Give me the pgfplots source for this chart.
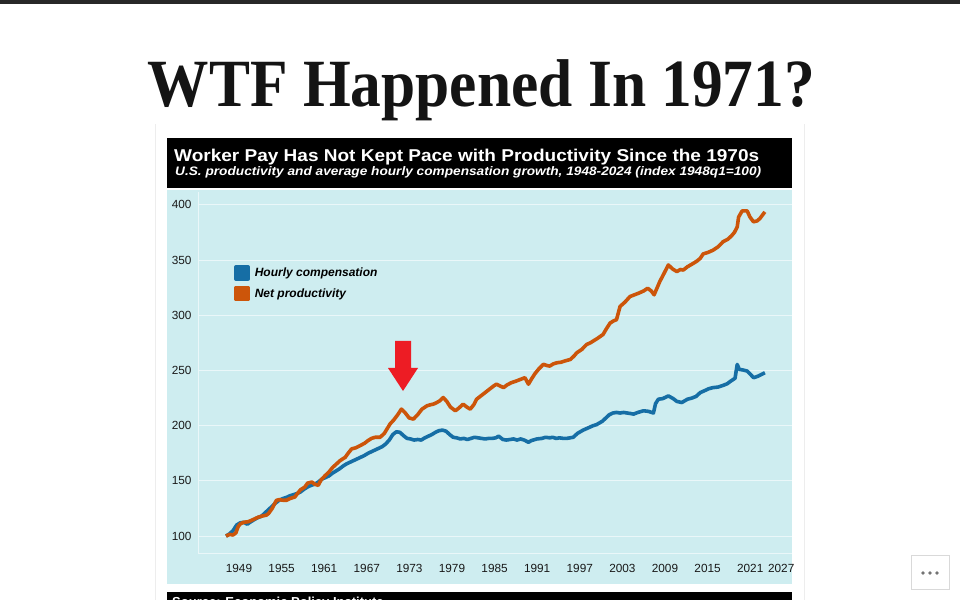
\documentclass[border=0pt]{standalone}
\usepackage{pgfplots}
\pgfplotsset{compat=1.18}
\usepackage{fontspec}
\setmainfont{Liberation Sans}
\newfontfamily\serifb{Liberation Serif}
\definecolor{bgc}{RGB}{206,237,240}
\definecolor{gridc}{RGB}{234,247,249}
\definecolor{payblue}{RGB}{22,110,165}
\definecolor{prodorange}{RGB}{204,85,10}
\definecolor{topbar}{RGB}{40,40,40}
\definecolor{arrowred}{RGB}{237,28,36}
\begin{document}
\begin{tikzpicture}[x=1pt,y=1pt]
\path[use as bounding box] (0,0) rectangle (960,600);
\fill[white] (0,0) rectangle (960,600);
\fill[topbar] (0,595.5) rectangle (960,600);
\draw[black!7] (155.5,0) -- (155.5,476);
\draw[black!7] (804.5,0) -- (804.5,476);
% page title
\node[anchor=base, inner sep=0pt, text=black!92] at (481.5,493)
  {\scalebox{1}[1.1]{\resizebox{667pt}{!}{\serifb\bfseries WTF Happened In 1971?}}};
% chart header
\fill[black] (167,412) rectangle (792,462);
\node[anchor=base west, inner sep=0pt, text=white] at (174,438)
  {\scalebox{1}[0.9]{\resizebox{585pt}{!}{\fontsize{20}{24}\selectfont\bfseries Worker Pay Has Not Kept Pace with Productivity Since the 1970s}}};
\node[anchor=base west, inner sep=0pt, text=white] at (175,424.5)
  {\scalebox{1}[0.9]{\resizebox{586pt}{!}{\fontsize{12.5}{15}\selectfont\bfseries\itshape U.S. productivity and average hourly compensation growth, 1948-2024 (index 1948q1=100)}}};
% plot background
\fill[bgc] (167,16) rectangle (792,410);
% source bar (cut off at the page edge, as in the reference)
\fill[black] (167,0) rectangle (792,8);
\begin{scope}
\clip (167,0) rectangle (792,8);
\node[anchor=base west, inner sep=0pt, text=white] at (172,-6.5)
  {\fontsize{13}{15}\selectfont\bfseries Source: Economic Policy Institute};
\end{scope}
\begin{axis}[
  at={(198pt,47pt)}, anchor=south west,
  scale only axis, width=594pt, height=361pt,
  xmin=1944.06, xmax=2027.72, ymin=84.68, ymax=411.7,
  axis x line*=bottom, axis y line*=left,
  axis line style={gridc, line width=1pt, -},
  ymajorgrids, grid style={gridc, line width=1pt},
  tick style={draw=none},
  xtick={1949.83,1955.83,1961.83,1967.83,1973.83,1979.83,1985.83,1991.83,1997.83,2003.83,2009.83,2015.83,2021.83,2026.2},
  xticklabels={1949,1955,1961,1967,1973,1979,1985,1991,1997,2003,2009,2015,2021,2027},
  ytick={100,150,200,250,300,350,400},
  /pgf/number format/assume math mode=true,
  ticklabel style={font=\fontsize{11.8}{14}\selectfont, text=black!90},
  yticklabel style={xshift=-3pt},
  xticklabel style={yshift=-8pt},
  legend style={at={(0.0606,0.798)}, anchor=north west, draw=none, fill=none,
    inner sep=0pt, row sep=5pt, font=\fontsize{12}{14}\selectfont\bfseries\itshape,
    /tikz/every odd column/.append style={column sep=3pt}},
  legend cell align=left,
  legend image code/.code={\fill[#1] (0pt,-6pt) rectangle (12pt,6pt);},
]
\addplot[payblue, line width=3.6pt, line join=round] coordinates {
(1948.0,100) (1948.5,102) (1949.0,105) (1949.5,110) (1950.0,112) (1950.5,112.5)
(1951.0,110.8) (1951.5,113) (1952.0,115) (1952.5,116.8) (1953.0,118) (1953.5,121)
(1954.0,124) (1954.5,127) (1955.0,130) (1955.5,132.5) (1956.0,134) (1956.5,135)
(1957.0,136.5) (1957.5,137.5) (1958.0,138.5) (1958.5,140) (1959.0,142.5) (1959.5,144.5)
(1960.0,146) (1960.5,147) (1961.0,149) (1961.5,151.5) (1962.0,153) (1962.5,154.5)
(1963.0,157) (1963.5,159) (1964.0,161) (1964.5,163.5) (1965.0,165.5) (1965.5,167)
(1966.0,168.5) (1966.5,170) (1967.0,171.5) (1967.5,173) (1968.0,175) (1968.5,176.5)
(1969.0,178) (1969.5,179.5) (1970.0,181) (1970.5,183.5) (1971.0,187) (1971.5,192)
(1972.0,194.5) (1972.5,194) (1973.0,191) (1973.5,188.5) (1974.0,188) (1974.5,187)
(1975.0,187.5) (1975.5,187) (1976.0,189) (1976.5,190.5) (1977.0,192) (1977.5,194)
(1978.0,195.5) (1978.5,196) (1979.0,195) (1979.5,192) (1980.0,189.5) (1980.5,189)
(1981.0,188) (1981.5,188.5) (1982.0,187.5) (1982.5,188.5) (1983.0,189.5) (1983.5,189)
(1984.0,188.5) (1984.5,188) (1985.0,188.5) (1985.5,188.5) (1986.0,189) (1986.4,190.5)
(1987.0,187.5) (1987.5,187) (1988.0,187.5) (1988.5,188) (1989.0,187) (1989.5,188)
(1990.0,187) (1990.6,185) (1991.0,186.5) (1991.8,188) (1992.5,188.5) (1993.0,189.5)
(1993.6,189) (1994.0,189.5) (1994.5,188.5) (1995.0,189) (1995.5,188.5) (1996.0,188.5)
(1996.9,189.5) (1997.5,193) (1998.3,196) (1999.0,198) (1999.7,200) (2000.2,201)
(2001.0,204) (2001.5,207) (2002.0,210) (2002.5,211.5) (2003.0,212) (2003.5,211.5)
(2004.0,212) (2004.5,211.5) (2005.0,211) (2005.4,210.5) (2006.0,212) (2006.8,213.5)
(2007.5,213) (2008.2,211.5) (2008.5,220) (2008.9,224) (2009.5,224.5) (2010.3,227)
(2011.0,224.5) (2011.5,222) (2012.2,221) (2013.0,224) (2013.6,225) (2014.2,226.5)
(2014.8,230) (2015.5,232) (2016.0,233.5) (2016.6,234.5) (2017.3,235) (2018.0,236.5)
(2018.6,238) (2019.0,240) (2019.7,243) (2020.0,255.5) (2020.3,251) (2020.8,250.5)
(2021.4,249.5) (2021.8,247) (2022.3,243.5) (2022.8,244.5) (2023.3,246) (2023.9,248)
};
\addplot[prodorange, line width=3.6pt, line join=round] coordinates {
(1948.0,100) (1948.5,101.5) (1949.0,101) (1949.4,103) (1949.7,108.4) (1950.0,111)
(1950.5,112.5) (1951.1,113) (1951.5,114) (1952.0,115.5) (1952.5,117) (1953.0,118)
(1953.7,119) (1954.0,120.5) (1954.5,125) (1955.1,132.4) (1955.5,133) (1956.0,132.5)
(1956.5,132.4) (1957.0,134) (1957.7,135.4) (1958.0,138) (1958.5,142) (1959.1,144.4)
(1959.5,148) (1960.1,149) (1960.5,147) (1961.0,146) (1961.4,151) (1962.0,155)
(1962.5,158) (1963.0,162) (1963.5,165) (1964.1,168.5) (1964.8,171.4) (1965.2,175)
(1965.7,179) (1966.3,180) (1966.9,182) (1967.5,184) (1968.0,186.5) (1968.5,188.5)
(1969.0,189.5) (1969.7,189.5) (1970.3,193) (1971.1,201.5) (1971.6,205) (1972.2,210)
(1972.7,215) (1973.2,212) (1973.8,207) (1974.4,206) (1975.0,210) (1975.6,215)
(1976.3,218) (1976.8,219) (1977.2,219.5) (1977.7,221) (1978.1,222.5) (1978.6,225.5)
(1979.1,222) (1979.6,217) (1980.3,213.5) (1980.8,216) (1981.4,219.5) (1981.9,217)
(1982.4,215) (1982.9,219) (1983.3,224) (1983.8,226.5) (1984.3,229) (1984.8,231.5)
(1985.3,234) (1985.7,236) (1986.1,237.6) (1986.6,236) (1987.1,234.5) (1987.6,237)
(1988.2,239) (1988.9,240.5) (1989.5,242) (1990.1,243.5) (1990.6,237.6) (1991.0,242)
(1991.5,247) (1992.0,251) (1992.7,255.6) (1993.2,254.5) (1993.6,254) (1994.1,256)
(1994.6,257) (1995.2,257.5) (1995.7,258.6) (1996.5,260) (1997.0,263) (1997.4,266)
(1998.1,269) (1998.8,273.6) (1999.3,275) (1999.7,276.6) (2000.3,279) (2001.1,282.6)
(2001.6,288) (2002.1,293) (2002.6,295) (2003.0,296) (2003.5,308) (2004.2,312)
(2004.9,317) (2005.5,318.5) (2006.1,320) (2006.8,322) (2007.4,324.5) (2007.9,322)
(2008.3,318.6) (2009.1,330.6) (2009.7,338) (2010.3,345.6) (2010.9,342) (2011.5,339.6)
(2012.0,341.5) (2012.4,341) (2013.0,344) (2013.8,347) (2014.3,349) (2014.8,351.6)
(2015.2,355.6) (2015.9,357) (2016.6,359) (2017.3,362) (2018.0,366.6) (2018.7,369)
(2019.2,372) (2019.6,375) (2020.0,380) (2020.2,389) (2020.7,394.6) (2021.4,394.6)
(2021.8,389) (2022.3,384.7) (2022.8,385.5) (2023.2,387.7) (2023.9,393.7)
};
\legend{Hourly compensation, Net productivity}
\end{axis}
% red arrow annotation
\fill[arrowred] (395,259) -- (411,259) -- (411,232) -- (418,232) -- (403,209) -- (388,232) -- (395,232) -- cycle;
% "..." button
\draw[black!15, fill=white] (911.5,10.5) rectangle (949.5,44.5);
\fill[black!55] (923,27) circle (1.8) (930,27) circle (1.8) (937,27) circle (1.8);
\end{tikzpicture}
\end{document}
